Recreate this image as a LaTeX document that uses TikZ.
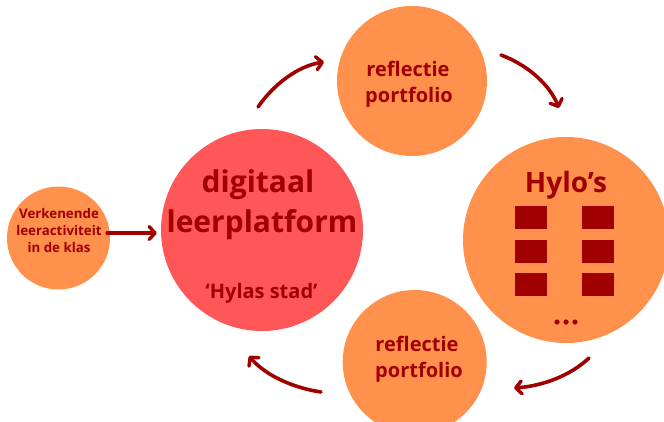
\documentclass[tikz,border=0pt]{standalone}
\usepackage{fontspec}
\setmainfont{Open Sans}
\usetikzlibrary{arrows.meta}
\definecolor{orangefill}{HTML}{FF914D}
\definecolor{redfill}{HTML}{FF5757}
\definecolor{darkred}{HTML}{A00000}
\tikzset{
  blob/.style={circle, inner sep=0pt, draw=none},
  lbl/.style={text=darkred, anchor=base, inner sep=0pt, font=\bfseries},
  flow/.style={draw=darkred, line width=3.6pt, line cap=round,
    -{Straight Barb[length=6pt, width=13pt, line width=3.4pt, round]}},
  hylo/.style={fill=darkred, draw=none}
}
\begin{document}
\begin{tikzpicture}[x=1pt, y=-1pt]
\useasboundingbox (0,0) rectangle (664,421);
\clip (0,0) rectangle (664,421);
% circles
\node[blob, fill=orangefill, minimum size=103pt] (small) at (58.5,238) {};
\node[blob, fill=redfill, minimum size=202pt] (big) at (262,230) {};
\node[blob, fill=orangefill, minimum size=150pt] (top) at (412,81) {};
\node[blob, fill=orangefill, minimum size=206pt] (right) at (566,240) {};
\node[blob, fill=orangefill, minimum size=144pt] (bottom) at (414.7,362) {};
% texts
\node[lbl, font=\bfseries\fontsize{13.3}{17}\selectfont] (t1) at (59,218) {Verkenende};
\node[lbl, font=\bfseries\fontsize{13.3}{17}\selectfont] (t2) at (59,235) {leeractiviteit};
\node[lbl, font=\bfseries\fontsize{13.3}{17}\selectfont] (t3) at (59,252) {in de klas};
\node[lbl, font=\bfseries\fontsize{30}{36}\selectfont] (d1) at (258,192) {digitaal};
\node[lbl, font=\bfseries\fontsize{30}{36}\selectfont] (d2) at (262,232) {leerplatform};
\node[lbl, font=\bfseries\fontsize{20}{24}\selectfont] (d3) at (261.5,298) {‘Hylas stad’};
\node[lbl, font=\bfseries\fontsize{20}{24}\selectfont] (r1) at (408,76) {reflectie};
\node[lbl, font=\bfseries\fontsize{20}{24}\selectfont] (r2) at (409,102) {portfolio};
\node[lbl, font=\bfseries\fontsize{20}{24}\selectfont] (b1) at (417,351) {reflectie};
\node[lbl, font=\bfseries\fontsize{20}{24}\selectfont] (b2) at (419,377) {portfolio};
\node[lbl, font=\bfseries\fontsize{28}{34}\selectfont] (h1) at (566,192) {Hylo’s};
% squares
\foreach \yy in {206,239.5,273} {
  \fill[hylo] (515,\yy) rectangle ++(32,23);
  \fill[hylo] (582,\yy) rectangle ++(32,23);
}
\foreach \xx in {557,566,575} \fill[hylo] (\xx,322) circle (2.6);
% arrow endpoints
\coordinate (s1) at ([yshift=5pt, xshift=-3pt]small.east);
\coordinate (a1s) at (258,107);
\coordinate (a1e) at (324,62);
\coordinate (a2s) at (501,55);
\coordinate (a2e) at (559,108);
\coordinate (a3s) at (589,358);
\coordinate (a3e) at (514,388);
\coordinate (a4s) at (321,392);
\coordinate (a4e) at (249,356);
% arrows
\draw[flow, shorten >=4pt] (s1) -- (s1 -| big.west);
\draw[flow] (a1s) .. controls (274,84) and (298,66) .. (a1e);
\draw[flow] (a2s) .. controls (530,66) and (550,86) .. (a2e);
\draw[flow] (a3s) .. controls (570,376) and (542,386) .. (a3e);
\draw[flow] (a4s) .. controls (294,388) and (266,376) .. (a4e);
\end{tikzpicture}
\end{document}
